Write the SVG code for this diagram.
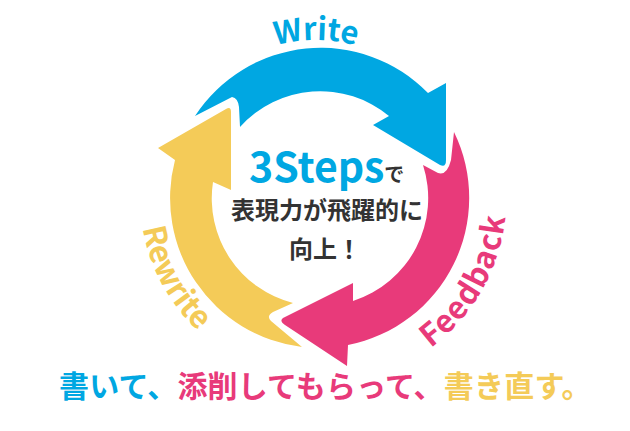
<svg xmlns="http://www.w3.org/2000/svg" width="630" height="431" viewBox="0 0 630 431">
<style>
text{font-family:"Noto Sans CJK JP","Noto Sans",sans-serif;}
.b{fill:#00a7e2}.p{fill:#e83a7a}.y{fill:#f4cb58}.d{fill:#333}
.lab{font-size:31px;font-weight:700;text-anchor:middle}
.cap{font-size:30px;font-weight:700;letter-spacing:.2px}
.mid{font-size:24px;font-weight:700;text-anchor:middle}
</style>
<defs>
<path id="arcTop2" d="M158 198A158 158 0 0 1 474 198"/>
<path id="arcLeft" d="M143 167A180 180 0 0 0 250 364"/>
<path id="arcRight" d="M368 378A186 186 0 0 0 499 147"/>
</defs>
<rect width="630" height="431" fill="#fff"/>
<g id="connectors">
<path id="arrow-write" class="b" d="M195 116A150 150 0 0 1 428 93L446 83L446 160Q446 168 440 165L373 125L389 116A108 108 0 0 0 240 127L239 107Q238 98 232 97Z"/>
<path id="arrow-feedback" class="p" d="M454 132A150 150 0 0 1 348 345L347 366L285 325Q279 321 283 318L353 283L353 301A108 108 0 0 0 423 165L438 173Q447 176 451 160Z"/>
<path id="arrow-rewrite" class="y" d="M226 109Q231 106 231 112L231 190L213 182A108 108 0 0 0 293 303L273 312Q266 316 271 321L302 347A150 150 0 0 1 175 160L158 148Z"/>
</g>
<g id="node-write"><text class="lab b"><textPath href="#arcTop2" startOffset="50%">Write</textPath></text></g>
<g id="node-rewrite"><text class="lab y"><textPath href="#arcLeft" startOffset="50%">Rewrite</textPath></text></g>
<g id="node-feedback"><text class="lab p" letter-spacing="1.2"><textPath href="#arcRight" startOffset="50%">Feedback</textPath></text></g>
<g id="node-center">
<text x="249" y="182" font-size="41" font-weight="700" class="b">3Steps<tspan class="d" font-size="20">で</tspan></text>
<text x="327" y="219" class="mid d">表現力が飛躍的に</text>
<text x="325" y="258" class="mid d">向上！</text>
</g>
<g id="node-caption">
<text x="59" y="397" class="cap"><tspan class="b">書いて、</tspan><tspan class="p">添削してもらって、</tspan><tspan class="y">書き直す。</tspan></text>
</g>
</svg>
